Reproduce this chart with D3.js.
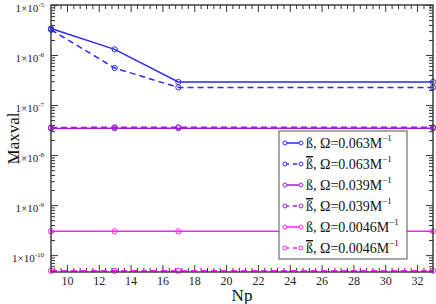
<!DOCTYPE html>
<html>
<head>
<meta charset="utf-8">
<script src="https://cdn.jsdelivr.net/npm/d3@7"></script>
<style>
  body { margin: 0; background: #fff; }
  svg { display: block; font-family: "Liberation Serif", "DejaVu Serif", serif; }
</style>
</head>
<body>
<svg id="chart"></svg>
<script>
// Data
const np = [9, 13, 17, 33];
const betaOmega063 = [3.4e-6, 1.3e-6, 2.9e-7, 2.9e-7];
const betaBarOmega063 = [3.2e-6, 5.5e-7, 2.25e-7, 2.25e-7];
const betaOmega039 = [3.4e-8, 3.45e-8, 3.45e-8, 3.45e-8];
const betaBarOmega039 = [3.55e-8, 3.6e-8, 3.6e-8, 3.6e-8];
const betaOmega0046 = [3.0e-10, 3.0e-10, 3.0e-10, 3.0e-10];
const betaBarOmega0046 = [4.85e-11, 4.85e-11, 4.85e-11, 4.85e-11];

const xMajorTicks = [10, 12, 14, 16, 18, 20, 22, 24, 26, 28, 30, 32];
const yMajorExponents = [-10, -9, -8, -7, -6, -5];

const series = [
  { bar: false, omega: "0.063", values: betaOmega063, color: "#2a2aff", dashed: false },
  { bar: true, omega: "0.063", values: betaBarOmega063, color: "#2a2aff", dashed: true },
  { bar: false, omega: "0.039", values: betaOmega039, color: "#9b1fd8", dashed: false },
  { bar: true, omega: "0.039", values: betaBarOmega039, color: "#9b1fd8", dashed: true },
  { bar: false, omega: "0.0046", values: betaOmega0046, color: "#ff20ff", dashed: false },
  { bar: true, omega: "0.0046", values: betaBarOmega0046, color: "#ff20ff", dashed: true },
];

const W = 436, H = 304;
const plot = { left: 51, right: 433, top: 5, bottom: 272 };

const svg = d3.select("#chart").attr("width", W).attr("height", H);

const xScale = d3.scaleLinear().domain([9, 33]).range([plot.left, plot.right]);
const yScale = d3.scaleLog().domain([4.6e-11, 1e-5]).range([plot.bottom, plot.top]);

// minor ticks
const xMinor = d3.range(23, 83).map(i => +(i * 0.4).toFixed(1)).filter(v => !xMajorTicks.includes(v));
const yMinor = [];
for (let e = -11; e <= -6; e++) {
  for (let k = 2; k <= 9; k++) {
    const v = k * Math.pow(10, e);
    if (v >= 4.6e-11 && v <= 1e-5) yMinor.push(v);
  }
}
const yMajor = yMajorExponents.map(e => Math.pow(10, e));

const axisColor = "#333";

function drawAxis(axis, transform) {
  const g = svg.append("g").attr("transform", transform).call(axis);
  g.select(".domain").remove();
  g.selectAll("line").attr("stroke", axisColor).attr("stroke-width", 1);
  return g;
}

// bottom
const xb = drawAxis(d3.axisBottom(xScale).tickValues(xMajorTicks).tickSize(-7).tickPadding(4), `translate(0,${plot.bottom})`);
xb.selectAll("text").attr("font-size", 12).attr("font-family", "Liberation Serif").attr("fill", "#222");
drawAxis(d3.axisBottom(xScale).tickValues(xMinor).tickSize(-4).tickFormat(""), `translate(0,${plot.bottom})`);
// top
drawAxis(d3.axisTop(xScale).tickValues(xMajorTicks).tickSize(-7).tickFormat(""), `translate(0,${plot.top})`);
drawAxis(d3.axisTop(xScale).tickValues(xMinor).tickSize(-4).tickFormat(""), `translate(0,${plot.top})`);
// left
drawAxis(d3.axisLeft(yScale).tickValues(yMajor).tickSize(-7).tickFormat(""), `translate(${plot.left},0)`);
drawAxis(d3.axisLeft(yScale).tickValues(yMinor).tickSize(-4).tickFormat(""), `translate(${plot.left},0)`);
// right
drawAxis(d3.axisRight(yScale).tickValues(yMajor).tickSize(-7).tickFormat(""), `translate(${plot.right},0)`);
drawAxis(d3.axisRight(yScale).tickValues(yMinor).tickSize(-4).tickFormat(""), `translate(${plot.right},0)`);

// y tick labels with superscripts
yMajorExponents.forEach(e => {
  const y = yScale(Math.pow(10, e));
  const t = svg.append("text")
    .attr("x", 44)
    .attr("y", y + 7)
    .attr("text-anchor", "end")
    .attr("font-size", 11)
    .attr("fill", "#222");
  t.append("tspan").text("1×10");
  t.append("tspan").attr("font-size", 7).attr("dy", -5).text("-" + Math.abs(e));
});

// series
svg.append("clipPath").attr("id", "clip")
  .append("rect").attr("x", plot.left - 4).attr("y", plot.top - 4)
  .attr("width", plot.right - plot.left + 8).attr("height", plot.bottom - plot.top + 8);

const line = d3.line().x((d, i) => xScale(np[i])).y(d => yScale(d));

const marks = svg.append("g").attr("clip-path", "url(#clip)");
series.forEach(s => {
  marks.append("path")
    .datum(s.values)
    .attr("fill", "none")
    .attr("stroke", s.color)
    .attr("stroke-width", 1.5)
    .attr("stroke-dasharray", s.dashed ? "6,4" : null)
    .attr("d", line);
  marks.selectAll(null)
    .data(s.values)
    .join("circle")
    .attr("cx", (d, i) => xScale(np[i]))
    .attr("cy", d => yScale(d))
    .attr("r", 2.6)
    .attr("fill", "none")
    .attr("stroke", s.color)
    .attr("stroke-width", 1);
});

// frame
svg.append("rect")
  .attr("x", plot.left).attr("y", plot.top)
  .attr("width", plot.right - plot.left).attr("height", plot.bottom - plot.top)
  .attr("fill", "none").attr("stroke", axisColor).attr("stroke-width", 1.4);

// axis titles
svg.append("text")
  .attr("x", (plot.left + plot.right) / 2)
  .attr("y", 301)
  .attr("text-anchor", "middle")
  .attr("font-size", 17)
  .attr("fill", "#111")
  .text("Np");

svg.append("text")
  .attr("transform", `translate(19,${(plot.top + plot.bottom) / 2}) rotate(-90)`)
  .attr("text-anchor", "middle")
  .attr("font-size", 17)
  .attr("fill", "#111")
  .text("Maxval");

// legend
const legend = svg.append("g");
const lgX = 279, lgY = 131, lgW = 128, lgH = 128;
legend.append("rect")
  .attr("x", lgX).attr("y", lgY).attr("width", lgW).attr("height", lgH)
  .attr("fill", "#fff").attr("stroke", "#555").attr("stroke-width", 1);

series.forEach((s, i) => {
  const cy = 143 + i * 21;
  legend.append("line")
    .attr("x1", 285).attr("x2", 301).attr("y1", cy).attr("y2", cy)
    .attr("stroke", s.color).attr("stroke-width", 1.5)
    .attr("stroke-dasharray", s.dashed ? "4,4" : null);
  [285, 301].forEach(cx => {
    legend.append("circle")
      .attr("cx", cx).attr("cy", cy).attr("r", 2)
      .attr("fill", "#fff").attr("stroke", s.color).attr("stroke-width", 1);
  });
  const t = legend.append("text")
    .attr("x", 306).attr("y", cy + 5)
    .attr("font-size", 14)
    .attr("fill", "#111");
  const b = t.append("tspan").text("ß");
  if (s.bar) b.style("text-decoration", "overline");
  t.append("tspan").text(", Ω=" + s.omega + "M");
  t.append("tspan").attr("font-size", 9).attr("dy", -7).text("−1");
});
</script>
</body>
</html>
